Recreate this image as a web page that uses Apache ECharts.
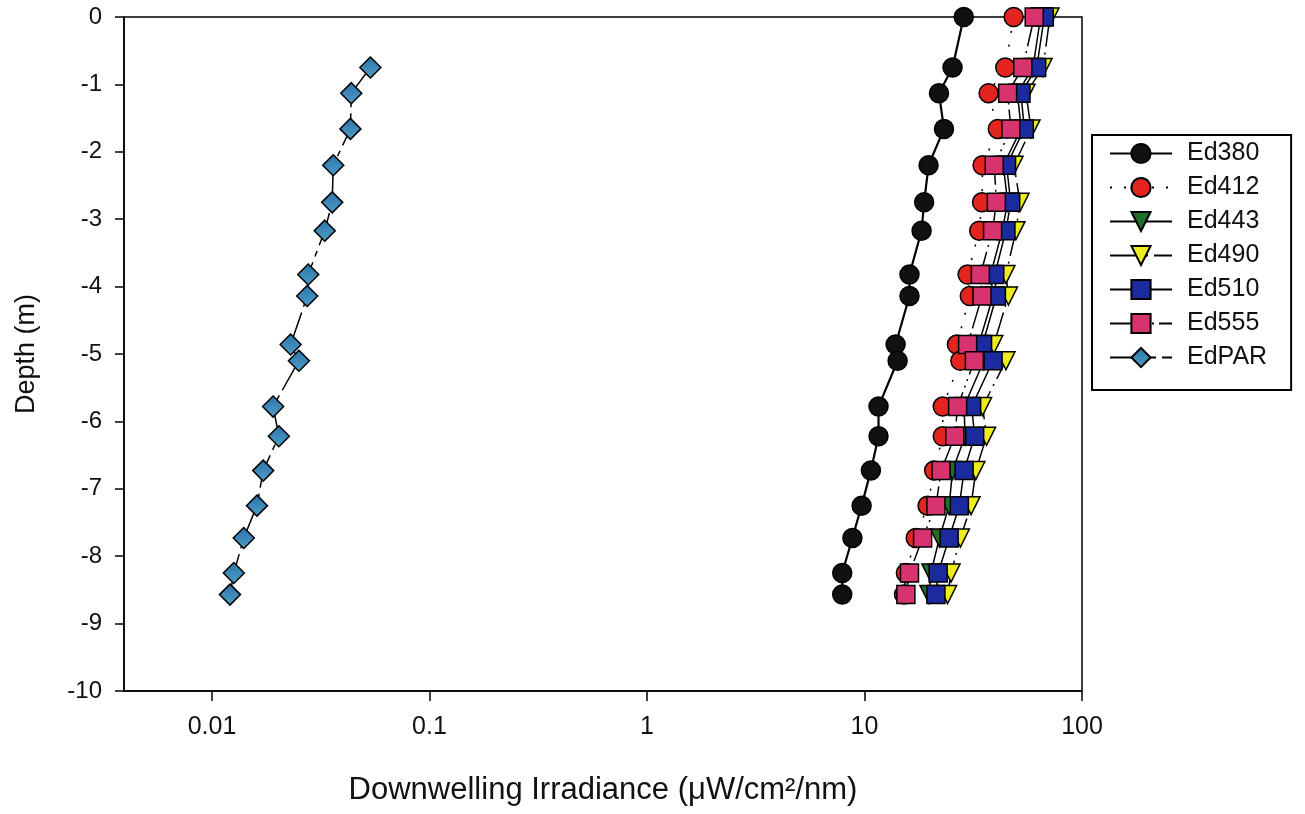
<!DOCTYPE html>
<html>
<head>
<meta charset="utf-8">
<script src="https://cdn.jsdelivr.net/npm/echarts@6/dist/echarts.min.js"></script>
<style>
html,body{margin:0;padding:0;background:#fff;}
#chart{width:1305px;height:814px;}
</style>
</head>
<body>
<div id="chart"></div>
<script>
// Depth levels (m)
var depths = [0, -0.75, -1.13, -1.66, -2.2, -2.75, -3.17, -3.82, -4.14, -4.86, -5.1, -5.78, -6.22, -6.73, -7.25, -7.73, -8.25, -8.57];
// Downwelling irradiance values (uW/cm2/nm)
var ed380 = [28.6, 25.4, 22.0, 23.2, 19.7, 18.8, 18.3, 16.1, 16.1, 13.9, 14.2, 11.6, 11.6, 10.7, 9.7, 8.8, 7.9, 7.9];
var ed412 = [48.5, 44.4, 37.2, 41.0, 34.9, 34.7, 33.7, 29.8, 30.5, 26.6, 27.6, 22.9, 22.9, 20.9, 19.5, 17.2, 15.5, 15.2];
var ed443 = [64.5, 59.5, 50.5, 52.5, 43.5, 45.5, 43.0, 38.0, 39.0, 33.5, 35.4, 28.7, 29.0, 25.4, 24.5, 22.1, 20.2, 19.8];
var ed490 = [71.2, 66.2, 55.3, 58.3, 48.7, 51.9, 49.7, 44.7, 45.9, 39.3, 44.7, 34.9, 36.4, 32.5, 30.9, 27.6, 25.0, 24.1];
var ed510 = [67.1, 61.9, 52.4, 54.3, 45.0, 47.0, 44.7, 39.7, 40.4, 34.9, 39.0, 31.1, 32.1, 28.7, 27.3, 24.5, 21.8, 21.3];
var ed555 = [60.3, 53.4, 45.5, 47.1, 39.5, 40.4, 38.8, 34.1, 34.7, 29.8, 32.0, 26.8, 26.0, 22.5, 21.3, 18.5, 16.1, 15.5];
// PAR starts at the second depth level
var edparDepths = [-0.75, -1.13, -1.66, -2.2, -2.75, -3.17, -3.82, -4.14, -4.86, -5.1, -5.78, -6.22, -6.73, -7.25, -7.73, -8.25, -8.57];
var edpar = [0.0535, 0.0437, 0.0433, 0.0361, 0.0357, 0.0330, 0.0277, 0.0274, 0.0230, 0.0251, 0.0191, 0.0203, 0.0172, 0.0161, 0.0140, 0.0126, 0.0121];

var seriesNames = ['Ed380', 'Ed412', 'Ed443', 'Ed490', 'Ed510', 'Ed555', 'EdPAR'];
var yTicks = [0, -1, -2, -3, -4, -5, -6, -7, -8, -9, -10];
var xTickLabels = ['0.01', '0.1', '1', '10', '100'];

function pairs(xs, ys) {
  return xs.map(function (v, i) { return [v, ys[i]]; });
}

var FONT = 'Liberation Sans, Arial, Helvetica, sans-serif';

function mk(name, data, symbol, color, size, lineType, lineWidth, rotate) {
  return {
    name: name,
    type: 'line',
    data: data,
    symbol: symbol,
    symbolSize: size,
    symbolRotate: rotate || 0,
    showAllSymbol: true,
    itemStyle: { color: color, borderColor: '#000', borderWidth: 1.5 },
    lineStyle: { color: '#000', width: lineWidth, type: lineType },
    emphasis: { disabled: true },
    z: 2,
    animation: false
  };
}

var parGrad = new echarts.graphic.LinearGradient(0, 0, 0, 1, [
  { offset: 0, color: '#2a72a8' },
  { offset: 1, color: '#4f9fc8' }
]);

var chart = echarts.init(document.getElementById('chart'), null, { renderer: 'canvas' });
chart.setOption({
  backgroundColor: '#fff',
  animation: false,
  textStyle: { fontFamily: FONT },
  grid: {
    left: 124, right: 223, top: 17, bottom: 123,
    show: true, borderColor: '#000', borderWidth: 1.5, backgroundColor: 'transparent'
  },
  legend: {
    orient: 'vertical',
    left: 1092, top: 135,
    data: seriesNames,
    itemWidth: 62,
    itemHeight: 24,
    itemGap: 9,
    padding: [6, 24, 20, 17],
    borderColor: '#000',
    borderWidth: 2,
    textStyle: { fontFamily: FONT, fontSize: 25, color: '#111', padding: [0, 0, 0, 10] },
    selectedMode: false
  },
  xAxis: {
    type: 'log',
    logBase: 10,
    min: 0.00394,
    max: 100,
    name: 'Downwelling Irradiance (\u03bcW/cm\u00b2/nm)',
    nameLocation: 'middle',
    nameGap: 84,
    nameTextStyle: { fontFamily: FONT, fontSize: 31, color: '#111' },
    axisLine: { show: true, onZero: false, lineStyle: { color: '#000', width: 1.5 } },
    axisTick: { show: true, inside: false, length: 10, lineStyle: { color: '#000', width: 1.5 } },
    minorTick: { show: false },
    splitLine: { show: false },
    axisLabel: {
      fontFamily: FONT, fontSize: 25, color: '#111', margin: 24,
      showMinLabel: false,
      formatter: function (v) {
        var s = String(parseFloat(Number(v).toPrecision(6)));
        return xTickLabels.indexOf(s) >= 0 ? s : '';
      }
    }
  },
  yAxis: {
    type: 'value',
    min: -10, max: 0, interval: 1,
    name: 'Depth (m)',
    nameLocation: 'middle',
    nameGap: 84,
    nameTextStyle: { fontFamily: FONT, fontSize: 27, color: '#111' },
    axisLine: { show: true, onZero: false, lineStyle: { color: '#000', width: 1.5 } },
    axisTick: { show: true, inside: false, length: 9, lineStyle: { color: '#000', width: 1.5 } },
    splitLine: { show: false },
    axisLabel: {
      fontFamily: FONT, fontSize: 24, color: '#111', margin: 22,
      formatter: function (v) { return yTicks.indexOf(v) >= 0 ? String(v) : ''; }
    }
  },
  series: [
    mk('Ed380', pairs(ed380, depths), 'circle', '#111', 19, 'solid', 2.2),
    mk('Ed412', pairs(ed412, depths), 'circle', '#e3241f', 19, [2, 12], 1.5),
    mk('Ed443', pairs(ed443, depths), 'triangle', '#1f6e2a', 18, 'solid', 1.5, 180),
    mk('Ed490', pairs(ed490, depths), 'triangle', '#ecec1e', 18, [30, 6, 2, 6], 1.5, 180),
    mk('Ed510', pairs(ed510, depths), 'rect', '#1b2a9e', 18, 'solid', 1.5),
    mk('Ed555', pairs(ed555, depths), 'rect', '#d6336f', 18, [30, 5, 2, 5, 2, 5], 1.5),
    mk('EdPAR', pairs(edpar, edparDepths), 'diamond', parGrad, 21, [34, 6, 6, 6], 1.5)
  ]
});
</script>
</body>
</html>
